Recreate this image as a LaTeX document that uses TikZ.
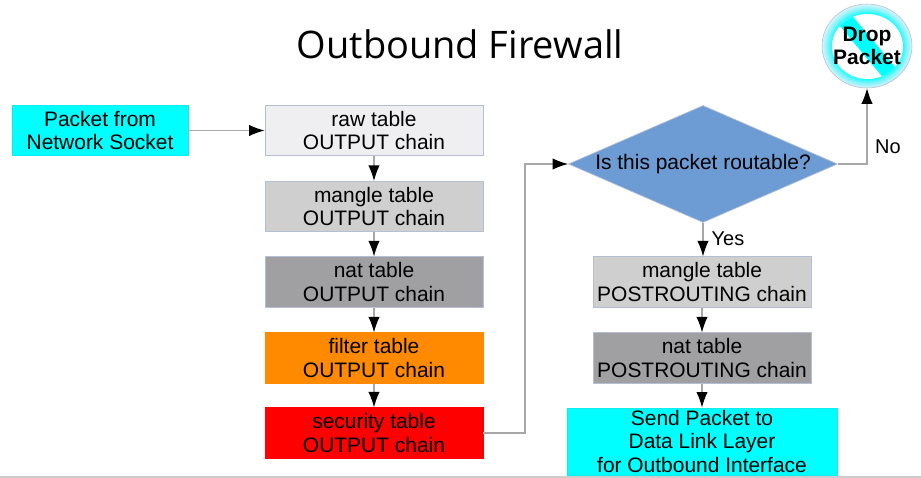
\documentclass[tikz,border=0pt]{standalone}
\usepackage{fontspec}
\setmainfont{Liberation Sans}
\newfontfamily\titlefont{Open Sans}
\usetikzlibrary{arrows.meta,shapes.geometric}
\definecolor{rawgray}{HTML}{EFEFF1}
\definecolor{manglegray}{HTML}{CFCFD0}
\definecolor{natgray}{HTML}{A0A0A2}
\definecolor{filterorange}{HTML}{FF8A00}
\definecolor{securityred}{HTML}{FF0000}
\definecolor{routeblue}{HTML}{6D9BD3}
\definecolor{edgeblue}{HTML}{B4BFD2}
\definecolor{linegray}{HTML}{A8A8A8}
\definecolor{packetcyan}{HTML}{00FFFF}
\definecolor{ringpale}{HTML}{D8F4F8}
\definecolor{ringmid}{HTML}{80F4FA}
\pgfdeclareradialshading{dropring}{\pgfpoint{0cm}{0cm}}{%
  color(0bp)=(packetcyan); color(19bp)=(packetcyan); color(22bp)=(ringmid); color(25bp)=(ringpale); color(50bp)=(white)}
\tikzset{
  tablebox/.style={draw=edgeblue, line width=0.5pt, minimum width=5.45cm, minimum height=1.26cm,
    align=center, inner sep=0pt, font=\fontsize{14.9}{17}\selectfont},
  endbox/.style={tablebox, fill=packetcyan, draw=packetcyan!85!gray},
  flow/.style={draw=linegray, line width=0.8pt, -{Latex[black,length=11pt,width=8pt]}},
  lbl/.style={font=\fontsize{14.2}{17}\selectfont}
}
\begin{document}
\begin{tikzpicture}[x=0.025cm,y=-0.025cm]
              \useasboundingbox (0,0) rectangle (921,478);
              \draw[gray!40, line width=0.8pt] (0,477) -- (921,477);
              \node[font=\titlefont\fontsize{27}{32}\selectfont] (title) at (460,44) {Outbound Firewall};
              % left column
              \node[endbox, minimum width=4.4cm] (socket) at (100,130.5) {Packet from\\Network Socket};
              \node[tablebox, fill=rawgray] (raw) at (374,130.5) {raw table\\OUTPUT chain};
              \node[tablebox, fill=manglegray] (mangle) at (374,206.5) {mangle table\\OUTPUT chain};
              \node[tablebox, fill=natgray] (nat) at (374,282) {nat table\\OUTPUT chain};
              \node[tablebox, fill=filterorange, draw=filterorange] (filter) at (374,358) {filter table\\OUTPUT chain};
              \node[tablebox, fill=securityred, draw=securityred] (security) at (374,433) {security table\\OUTPUT chain};
              % right column
              \node[diamond, fill=routeblue, draw=edgeblue, line width=0.5pt, inner sep=0pt, aspect=2.3,
                minimum width=6.725cm, minimum height=2.925cm, font=\fontsize{14.9}{17}\selectfont] (route) at (703,164) {Is this packet routable?};
              \node[tablebox, fill=manglegray] (manglepost) at (702,282) {mangle table\\POSTROUTING chain};
              \node[tablebox, fill=natgray] (natpost) at (702,358) {nat table\\POSTROUTING chain};
              \node[endbox, minimum width=6.75cm, minimum height=1.68cm] (send) at (702,441.5) {Send Packet to\\Data Link Layer\\for Outbound Interface};
              % drop sign
              \shade[shading=dropring, draw=edgeblue, line width=0.4pt] (867,46) ellipse [x radius=45, y radius=42];
              \fill[white] (867.5,46.5) ellipse [x radius=35.5, y radius=32.5];
              \begin{scope}
                \clip (867.5,46.5) ellipse [x radius=35.5, y radius=32.5];
                \draw[packetcyan, line width=0.4cm] (842,16) -- (893,77);
              \end{scope}
              \node[inner sep=0pt, minimum width=2.25cm, minimum height=2.1cm, align=center,
                font=\bfseries\fontsize{14.9}{16.6}\selectfont] (drop) at (867,46) {Drop\\Packet};
              % connectors
              \coordinate (bend) at (525,164);
              \coordinate (corner) at (867,164);
              \draw[flow] (socket) -- (raw);
              \draw[flow] (raw) -- (mangle);
              \draw[flow] (mangle) -- (nat);
              \draw[flow] (nat) -- (filter);
              \draw[flow] (filter) -- (security);
              \draw[flow] (security.east) -| (bend) -- (route.west);
              \draw[flow] (route.south) -- (route.south |- manglepost.north);
              \draw[flow] (manglepost) -- (natpost);
              \draw[flow] (natpost) -- (send);
              \draw[flow] (route.east) -- (corner) -- (drop.south);
              \node[lbl] (yes) at (728,239) {Yes};
              \node[lbl] (no) at (888,147) {No};
          \end{tikzpicture}
\end{document}
